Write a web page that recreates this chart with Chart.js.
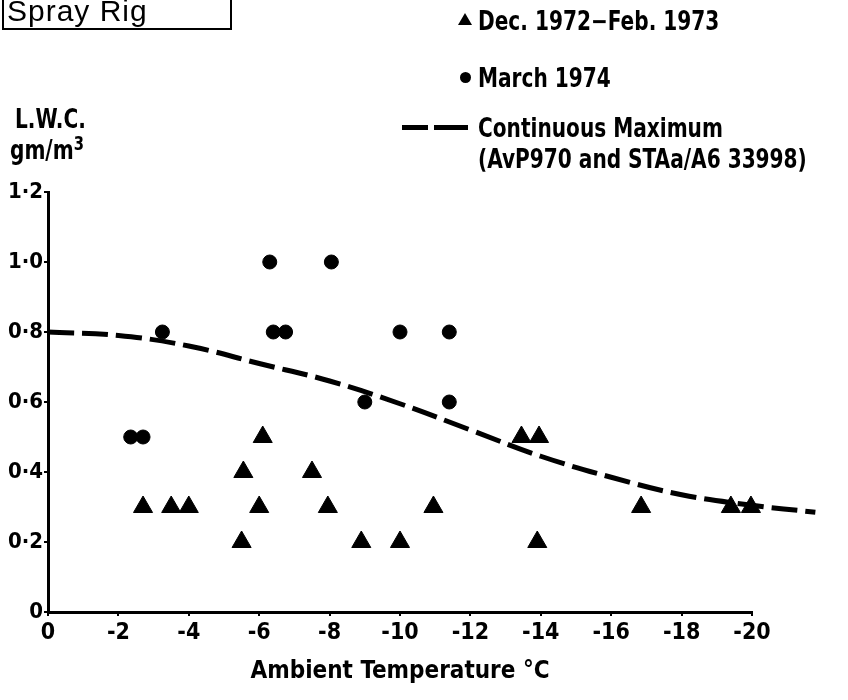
<!DOCTYPE html>
<html>
<head>
<meta charset="utf-8">
<script src="https://cdn.jsdelivr.net/npm/chart.js@4.4.1/dist/chart.umd.min.js"></script>
<style>
    body { margin: 0; background: #fff; }
    #wrap { position: relative; width: 848px; height: 700px; color: #000;
            font-family: "DejaVu Sans Condensed", "Liberation Sans Narrow", sans-serif; }
    #chart { position: absolute; left: 0; top: 0; }
    .txt { position: absolute; white-space: nowrap; font-size: 26px; font-weight: bold; line-height: 1;
           transform: scaleX(0.86); transform-origin: left center; }
    .tri { display: inline-block; width: 0; height: 0; border-left: 7px solid transparent;
           border-right: 7px solid transparent; border-bottom: 12px solid #000; }
    .dot { display: inline-block; width: 11px; height: 11px; border-radius: 50%; background: #000; }
    .dash { display: inline-block; height: 5px; background: #000; }
    #rig { position: absolute; left: 2px; top: -8px; width: 226px; height: 36px;
           border: 2px solid #000; border-top: none;
           font-family: "Liberation Sans", Arial, sans-serif; font-size: 30px; line-height: 1; }
</style>
</head>
<body>
<div id="wrap">
    <canvas id="chart" width="848" height="700"></canvas>
    <div id="rig"><span style="position:absolute;left:3px;top:4px;letter-spacing:1px;">Spray Rig</span></div>

    <div class="txt" style="left:15px;top:106px;">L.W.C.</div>
    <div class="txt" style="left:10px;top:134px;">gm/m<sup style="font-size:19px;vertical-align:9px;">3</sup></div>

    <div class="tri" style="position:absolute;left:458px;top:13px;"></div>
    <div class="txt" style="left:478px;top:8px;">Dec. 1972−Feb. 1973</div>
    <div class="dot" style="position:absolute;left:460px;top:72px;"></div>
    <div class="txt" style="left:478px;top:65px;">March 1974</div>
    <div class="dash" style="position:absolute;left:402px;top:125px;width:26px;"></div>
    <div class="dash" style="position:absolute;left:434px;top:125px;width:34px;"></div>
    <div class="txt" style="left:478px;top:115px;">Continuous Maximum</div>
    <div class="txt" style="left:478px;top:146px;">(AvP970 and STAa/A6 33998)</div>
</div>
<script>
// Dec. 1972 - Feb. 1973 (triangles)
const decTemps = [-2.7, -3.5, -4.0, -5.5, -5.55, -6.1, -6.0, -7.5, -7.95, -8.9, -10.0, -10.95, -13.45, -13.95, -13.9, -16.85, -19.4, -19.97];
const decLwc   = [0.3, 0.3, 0.3, 0.2, 0.4, 0.5, 0.3, 0.4, 0.3, 0.2, 0.2, 0.3, 0.5, 0.5, 0.2, 0.3, 0.3, 0.3];

// March 1974 (dots)
const marTemps = [-2.35, -2.7, -3.25, -6.3, -8.05, -6.4, -6.75, -10.0, -11.4, -9.0, -11.4];
const marLwc   = [0.5, 0.5, 0.8, 1.0, 1.0, 0.8, 0.8, 0.8, 0.8, 0.6, 0.6];

// Continuous maximum curve
const maxTemps = [0, -2, -4, -6, -8, -10, -12, -14, -16, -18, -20, -21.8];
const maxLwc   = [0.80, 0.79, 0.76, 0.71, 0.66, 0.595, 0.52, 0.445, 0.385, 0.335, 0.305, 0.285];

const xTicks = [0, -2, -4, -6, -8, -10, -12, -14, -16, -18, -20];
const yTicks = [0, 0.2, 0.4, 0.6, 0.8, 1.0, 1.2];
const yTickLabels = ['0', '0·2', '0·4', '0·6', '0·8', '1·0', '1·2'];

const FONT = '"DejaVu Sans Condensed", "Liberation Sans Narrow", sans-serif';

function toPoints(xs, ys) {
    return xs.map((x, i) => ({ x: x, y: ys[i] }));
}

new Chart(document.getElementById('chart'), {
    type: 'scatter',
    data: {
        datasets: [{
            label: 'Continuous Maximum',
            type: 'line',
            data: toPoints(maxTemps, maxLwc),
            borderColor: '#000',
            borderWidth: 5,
            borderDash: [26, 8],
            pointRadius: 0,
            tension: 0.4,
            fill: false,
            clip: false
        }, {
            label: 'Dec. 1972-Feb. 1973',
            data: toPoints(decTemps, decLwc),
            pointStyle: 'triangle',
            pointRadius: 11,
            backgroundColor: '#000',
            borderColor: '#000',
            borderWidth: 1,
            clip: false
        }, {
            label: 'March 1974',
            data: toPoints(marTemps, marLwc),
            pointStyle: 'circle',
            pointRadius: 7,
            backgroundColor: '#000',
            borderColor: '#000',
            borderWidth: 1,
            clip: false
        }]
    },
    options: {
        responsive: false,
        animation: false,
        layout: { padding: { left: 0, right: 96, top: 192, bottom: 14 } },
        plugins: { legend: { display: false }, tooltip: { enabled: false } },
        scales: {
            x: {
                type: 'linear',
                min: -20,
                max: 0,
                reverse: true,
                afterBuildTicks: s => { s.ticks = xTicks.map(v => ({ value: v })); },
                afterFit: s => { s.height = 74; },
                grid: { drawOnChartArea: false, drawTicks: true, tickLength: 4, color: '#000', lineWidth: 2 },
                border: { color: '#000', width: 3 },
                ticks: {
                    color: '#000',
                    padding: 3,
                    maxRotation: 0,
                    font: { family: FONT, size: 23, weight: 'bold' },
                    callback: v => String(v)
                },
                title: {
                    display: true,
                    text: 'Ambient Temperature °C',
                    color: '#000',
                    align: 'center',
                    padding: { top: 0, bottom: 0 },
                    font: { family: FONT, size: 24, weight: 'bold' }
                }
            },
            y: {
                min: 0,
                max: 1.2,
                afterBuildTicks: s => { s.ticks = yTicks.map(v => ({ value: v })); },
                afterFit: s => { s.width = 48; },
                grid: { drawOnChartArea: false, drawTicks: true, tickLength: 4, color: '#000', lineWidth: 2 },
                border: { color: '#000', width: 3 },
                ticks: {
                    color: '#000',
                    padding: 1,
                    font: { family: FONT, size: 22, weight: 'bold' },
                    callback: v => yTickLabels[yTicks.indexOf(Math.round(v * 10) / 10)]
                }
            }
        }
    }
});
</script>
</body>
</html>
